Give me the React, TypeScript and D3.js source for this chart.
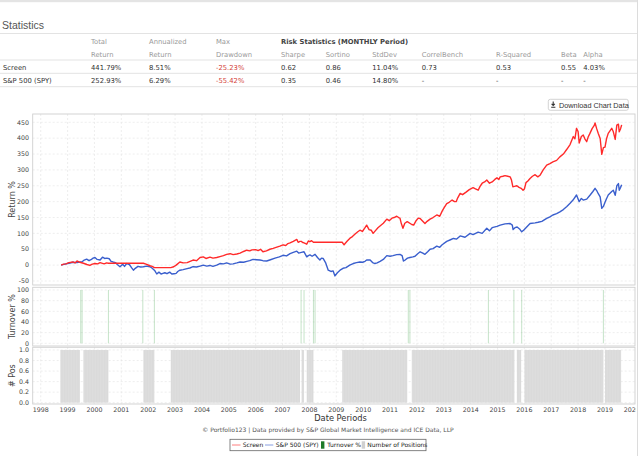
import React from 'react';
import * as d3 from 'd3';

// values (dates as decimal years)
const screenSeries: [number, number][] = [
  [1998.76, 0], [1998.85, 3], [1998.94, 4], [1999.05, 8], [1999.2, 10], [1999.28, 7], [1999.35, 13], [1999.46, 9],
  [1999.59, 6], [1999.72, 2], [1999.83, -1], [1999.92, 3], [2000.02, 5], [2000.12, 4], [2000.21, 8], [2000.36, 4],
  [2000.45, 7], [2000.52, 6], [2001.82, 6], [2001.92, 3], [2002.07, -2], [2002.15, -4], [2002.23, -8], [2002.84, -8],
  [2002.95, -5], [2003.04, 0], [2003.18, 10], [2003.3, 7], [2003.45, 8], [2003.67, 16], [2003.8, 14], [2003.93, 24],
  [2004.05, 26], [2004.15, 21], [2004.3, 25], [2004.41, 22], [2004.55, 24], [2004.67, 27], [2004.8, 30], [2004.92, 34],
  [2005.05, 36], [2005.16, 33], [2005.3, 35], [2005.42, 38], [2005.55, 43], [2005.67, 47], [2005.78, 45], [2005.86, 48],
  [2006.0, 49], [2006.09, 46], [2006.18, 50], [2006.27, 42], [2006.4, 45], [2006.53, 50], [2006.65, 53], [2006.76, 56],
  [2006.9, 60], [2007.02, 64], [2007.12, 62], [2007.2, 68], [2007.28, 70], [2007.4, 75], [2007.53, 81], [2007.58, 72],
  [2007.65, 75], [2007.71, 75], [2007.73, 72], [2007.8, 70], [2007.9, 66], [2007.96, 76], [2008.02, 74], [2008.08, 77],
  [2008.15, 72], [2009.22, 72], [2009.29, 64], [2009.4, 75], [2009.51, 85], [2009.6, 90], [2009.7, 98], [2009.8, 105],
  [2009.88, 110], [2009.97, 106], [2010.07, 118], [2010.13, 126], [2010.22, 112], [2010.3, 110], [2010.37, 100],
  [2010.45, 108], [2010.55, 118], [2010.65, 125], [2010.75, 132], [2010.88, 145], [2010.97, 140], [2011.07, 148],
  [2011.15, 150], [2011.25, 154], [2011.32, 150], [2011.37, 148], [2011.42, 131], [2011.48, 116], [2011.55, 132],
  [2011.64, 137], [2011.81, 128], [2011.88, 126], [2011.97, 140], [2012.05, 148], [2012.12, 147], [2012.2, 140],
  [2012.3, 131], [2012.38, 138], [2012.49, 145], [2012.6, 150], [2012.74, 158], [2012.85, 154], [2012.94, 170],
  [2013.02, 182], [2013.11, 194], [2013.2, 198], [2013.31, 205], [2013.4, 200], [2013.46, 200], [2013.52, 212],
  [2013.61, 226], [2013.7, 222], [2013.83, 230], [2013.95, 238], [2014.09, 244], [2014.18, 240], [2014.28, 236],
  [2014.35, 248], [2014.43, 258], [2014.52, 262], [2014.6, 268], [2014.7, 258], [2014.8, 262], [2014.9, 270],
  [2014.98, 275], [2015.05, 270], [2015.1, 278], [2015.2, 280], [2015.28, 282], [2015.38, 280], [2015.47, 278],
  [2015.52, 268], [2015.57, 247], [2015.63, 248], [2015.72, 250], [2015.8, 245], [2015.88, 242], [2015.95, 236],
  [2016.0, 240], [2016.06, 260], [2016.13, 265], [2016.21, 273], [2016.3, 280], [2016.4, 285], [2016.5, 278],
  [2016.58, 283], [2016.7, 300], [2016.83, 315], [2016.95, 320], [2017.06, 325], [2017.2, 330], [2017.32, 341],
  [2017.45, 350], [2017.58, 365], [2017.7, 380], [2017.82, 405], [2017.88, 398], [2017.94, 431], [2018.0, 420],
  [2018.04, 385], [2018.12, 405], [2018.19, 410], [2018.25, 398], [2018.32, 389], [2018.38, 405], [2018.44, 415],
  [2018.52, 430], [2018.6, 440], [2018.63, 448], [2018.69, 430], [2018.75, 415], [2018.82, 399], [2018.88, 349],
  [2018.94, 370], [2019.0, 372], [2019.06, 399], [2019.12, 415], [2019.25, 431], [2019.31, 420], [2019.38, 396],
  [2019.44, 441], [2019.5, 444], [2019.53, 420], [2019.58, 430], [2019.62, 441.79],
];

const spySeries: [number, number][] = [
  [1998.76, 0], [1998.9, 3], [1999.05, 6], [1999.2, 9], [1999.35, 8], [1999.46, 10], [1999.53, 10], [1999.62, 16],
  [1999.71, 19], [1999.8, 14], [1999.87, 17], [1999.95, 22], [2000.02, 24], [2000.1, 18], [2000.21, 16], [2000.3, 25],
  [2000.38, 21], [2000.46, 22], [2000.55, 20], [2000.62, 12], [2000.69, 10], [2000.78, 8], [2000.85, 2], [2000.95, -5],
  [2001.05, 3], [2001.12, -4], [2001.2, 5], [2001.3, 2], [2001.38, -8], [2001.45, -16], [2001.52, -10], [2001.62, -4],
  [2001.72, -6], [2001.82, -5], [2001.95, -3], [2002.07, -5], [2002.15, -10], [2002.25, -18], [2002.32, -28],
  [2002.4, -22], [2002.48, -28], [2002.55, -26], [2002.62, -24], [2002.7, -27], [2002.8, -22], [2002.88, -28],
  [2002.96, -27], [2003.04, -26], [2003.1, -20], [2003.18, -16], [2003.3, -14], [2003.45, -11], [2003.55, -9],
  [2003.67, -5], [2003.8, -6], [2003.93, -3], [2004.05, 0], [2004.18, -3], [2004.3, -1], [2004.41, -4], [2004.55, 0],
  [2004.67, 5], [2004.8, 4], [2004.92, 7], [2005.05, 3], [2005.16, 4], [2005.3, 7], [2005.42, 10], [2005.55, 9],
  [2005.67, 12], [2005.78, 14], [2005.9, 18], [2006.02, 17], [2006.16, 16], [2006.27, 14], [2006.41, 13], [2006.55, 17],
  [2006.72, 22], [2006.88, 26], [2007.02, 31], [2007.15, 29], [2007.28, 36], [2007.4, 40], [2007.53, 44], [2007.6, 38],
  [2007.7, 40], [2007.8, 42], [2007.9, 26], [2007.96, 30], [2008.02, 32], [2008.1, 28], [2008.21, 34], [2008.3, 24],
  [2008.39, 16], [2008.45, 22], [2008.51, 21], [2008.6, 8], [2008.7, -16], [2008.8, -20], [2008.88, -18], [2008.95, -34],
  [2009.04, -24], [2009.14, -16], [2009.25, -10], [2009.36, -8], [2009.5, 0], [2009.63, 5], [2009.75, 8], [2009.88, 10],
  [2009.98, 9], [2010.07, 12], [2010.13, 16], [2010.26, 16], [2010.35, 8], [2010.44, 5], [2010.52, 7], [2010.63, 12],
  [2010.75, 18], [2010.88, 30], [2011.0, 28], [2011.11, 30], [2011.25, 33], [2011.37, 34], [2011.45, 30], [2011.5, 13],
  [2011.56, 16], [2011.65, 22], [2011.74, 24], [2011.85, 26], [2011.93, 28], [2012.03, 36], [2012.12, 42],
  [2012.22, 38], [2012.3, 34], [2012.4, 42], [2012.49, 50], [2012.6, 52], [2012.74, 60], [2012.85, 56], [2012.94, 64],
  [2013.11, 75], [2013.25, 80], [2013.36, 84], [2013.48, 82], [2013.61, 92], [2013.79, 88], [2013.98, 100],
  [2014.09, 96], [2014.28, 104], [2014.43, 100], [2014.6, 116], [2014.7, 108], [2014.8, 118], [2014.98, 122],
  [2015.1, 126], [2015.28, 130], [2015.47, 131], [2015.55, 126], [2015.58, 112], [2015.65, 118], [2015.73, 120],
  [2015.82, 114], [2015.9, 105], [2015.97, 110], [2016.06, 118], [2016.21, 131], [2016.4, 133], [2016.51, 135],
  [2016.65, 138], [2016.83, 147], [2016.95, 152], [2017.06, 158], [2017.2, 162], [2017.32, 168], [2017.45, 175],
  [2017.58, 185], [2017.7, 195], [2017.81, 205], [2017.94, 221], [2018.04, 200], [2018.12, 210], [2018.19, 205],
  [2018.32, 208], [2018.44, 220], [2018.55, 232], [2018.63, 242], [2018.69, 235], [2018.75, 225], [2018.82, 215],
  [2018.88, 179], [2018.94, 185], [2019.0, 198], [2019.06, 210], [2019.12, 221], [2019.25, 232], [2019.31, 236],
  [2019.38, 220], [2019.44, 250], [2019.5, 257], [2019.53, 236], [2019.58, 245], [2019.62, 252.93],
];

const turnoverDates = [1999.49, 1999.54, 2000.52, 2001.8, 2002.23, 2007.69, 2007.8, 2008.15, 2008.21, 2011.68, 2011.74, 2014.66, 2015.61, 2015.9, 2018.94];
const turnoverValue = 100;

const positionPeriods: [number, number][] = [
  [1998.73, 1999.46], [1999.59, 2000.52], [2001.82, 2002.23], [2002.84, 2007.65], [2007.71, 2007.8], [2007.9, 2008.15],
  [2009.22, 2011.64], [2011.81, 2015.63], [2015.72, 2015.88], [2016.0, 2018.94], [2019.0, 2019.6],
];

const yearTicks = d3.range(1998, 2021);
const returnTicks = d3.range(-50, 451, 50);
const turnoverTicks = [0, 20, 40, 60, 80, 100];
const posTicks = [0, 0.2, 0.4, 0.6, 0.8, 1.0];

const headerTop = ['Total', 'Annualized', 'Max'];
const headerBottom = ['Return', 'Return', 'Drawdown', 'Sharpe', 'Sortino', 'StdDev', 'CorrelBench', 'R-Squared', 'Beta', 'Alpha'];
const rowNames = ['Screen', 'S&P 500 (SPY)'];
const screenStats = ['441.79%', '8.51%', '-25.23%', '0.62', '0.86', '11.04%', '0.73', '0.53', '0.55', '4.03%'];
const spyStats = ['252.93%', '6.29%', '-55.42%', '0.35', '0.46', '14.80%', '-', '-', '-', '-'];

const colX = [91, 149, 216, 281, 325.7, 372.3, 421.7, 496, 561, 583.3];
const FONT = '"DejaVu Sans", Verdana, sans-serif';
const RED = '#ff2a2a';
const BLUE = '#3a5fcd';

export default function App() {
  const L = 32.7, R = 635;
  const x = d3.scaleLinear().domain([1998, 2019]).range([40.7, 605]);
  const yRet = d3.scaleLinear().domain([-50, 450]).range([281, 122.3]);
  const yTurn = d3.scaleLinear().domain([0, 100]).range([343.3, 290]);
  const yPos = d3.scaleLinear().domain([0, 1]).range([402.7, 350]);
  const panels = [
    { id: 'p0', top: 114, bottom: 285 },
    { id: 'p1', top: 287.3, bottom: 346 },
    { id: 'p2', top: 347.3, bottom: 404 },
  ];
  const line = d3.line<[number, number]>().x(d => x(d[0])).y(d => yRet(d[1]));
  const gridYears = yearTicks.filter(t => x(t) < R - 4);
  const grid = { stroke: '#e2e2e2', strokeWidth: 0.6, strokeDasharray: '2,2' };
  const tickText = { fontFamily: FONT, fontSize: 6.3, fill: '#444' };
  const legendText = { fontFamily: FONT, fontSize: 6, fill: '#222' };
  const rows = [screenStats, spyStats];

  return (
    <svg width={640} height={456} style={{ position: 'absolute', left: 0, top: 0, background: '#fff' }}>
      <defs>
        {panels.map(p => (
          <clipPath id={p.id} key={p.id}>
            <rect x={L} y={p.top} width={R - L} height={p.bottom - p.top} />
          </clipPath>
        ))}
        <clipPath id="xlab"><rect x={0} y={400} width={636} height={20} /></clipPath>
        <pattern id="stripes" width={1.6} height={10} patternUnits="userSpaceOnUse">
          <rect width={1.6} height={10} fill="#d9d9d9" />
          <rect x={1.2} width={0.4} height={10} fill="#e3e3e3" />
        </pattern>
      </defs>

      {/* page frame */}
      <rect x={0} y={0} width={638} height={2.2} fill="#e4e4e4" />
      <line x1={637.5} x2={637.5} y1={0} y2={456} stroke="#dcdcdc" />

      {/* statistics table */}
      <text x={2} y={28.5} fontFamily='"Liberation Sans", Arial, sans-serif' fontSize={10.5} fill="#555">Statistics</text>
      {[33.5, 60, 73.3, 86.7].map(y => (
        <line key={y} x1={0} x2={637} y1={y} y2={y} stroke="#e3e3e3" strokeWidth={1} />
      ))}
      {headerTop.map((h, i) => (
        <text key={h} x={colX[i]} y={44} fontFamily={FONT} fontSize={6.8} fill="#999">{h}</text>
      ))}
      <text x={colX[3]} y={44} fontFamily={FONT} fontSize={6.8} fontWeight="bold" fill="#444">Risk Statistics (MONTHLY Period)</text>
      {headerBottom.map((h, i) => (
        <text key={h + i} x={colX[i]} y={56.5} fontFamily={FONT} fontSize={6.8} fill="#999">{h}</text>
      ))}
      {rows.map((r, ri) => (
        <g key={ri}>
          <text x={3} y={69.5 + ri * 13.3} fontFamily={FONT} fontSize={6.8} fill="#333">{rowNames[ri]}</text>
          {r.map((v, i) => (
            <text key={i} x={colX[i]} y={69.5 + ri * 13.3} fontFamily={FONT} fontSize={6.8} fill={i === 2 ? '#d43f3a' : '#333'}>{v}</text>
          ))}
        </g>
      ))}

      {/* download button */}
      <rect x={548.3} y={99.3} width={80} height={11} rx={2} fill="#fff" stroke="#c8c8c8" strokeWidth={0.8} />
      <path d="M553.2,101.6 v3.6 M551.6,103.8 l1.6,1.7 l1.6,-1.7 M551.2,107.2 h4.2" stroke="#333" strokeWidth={1.1} fill="none" />
      <text x={559} y={107.6} fontFamily='"Liberation Sans", Arial, sans-serif' fontSize={7.3} fill="#333">Download Chart Data</text>

      {/* panel grids */}
      {panels.map(p => (
        <g key={p.id}>
          {gridYears.map(t => (
            <line key={t} x1={x(t)} x2={x(t)} y1={p.top} y2={p.bottom} {...grid} />
          ))}
        </g>
      ))}
      {returnTicks.map(t => <line key={t} x1={L} x2={R} y1={yRet(t)} y2={yRet(t)} {...grid} />)}
      {turnoverTicks.map(t => <line key={t} x1={L} x2={R} y1={yTurn(t)} y2={yTurn(t)} {...grid} />)}
      {posTicks.map(t => <line key={t} x1={L} x2={R} y1={yPos(t)} y2={yPos(t)} {...grid} />)}

      {/* returns */}
      <g clipPath="url(#p0)">
        <path d={line(spySeries) || ''} fill="none" stroke={BLUE} strokeWidth={1.4} strokeLinejoin="round" />
        <path d={line(screenSeries) || ''} fill="none" stroke={RED} strokeWidth={1.4} strokeLinejoin="round" />
      </g>

      {/* turnover */}
      <g clipPath="url(#p1)">
        {turnoverDates.map(d => (
          <line key={d} x1={x(d)} x2={x(d)} y1={yTurn(0)} y2={yTurn(turnoverValue)} stroke="#2f9a3a" strokeOpacity={0.4} strokeWidth={0.7} />
        ))}
      </g>

      {/* number of positions */}
      <g clipPath="url(#p2)">
        {positionPeriods.map(([s, e]) => (
          <rect key={s} x={x(s)} width={x(e) - x(s)} y={yPos(1)} height={yPos(0) - yPos(1)} fill="url(#stripes)" />
        ))}
      </g>

      {panels.map(p => (
        <rect key={p.id} x={L} y={p.top} width={R - L} height={p.bottom - p.top} fill="none" stroke="#cfcfcf" strokeWidth={0.9} />
      ))}

      {/* y axes */}
      {returnTicks.map(t => (
        <text key={t} x={29} y={yRet(t)} dy="0.35em" textAnchor="end" {...tickText}>{t}</text>
      ))}
      {turnoverTicks.map(t => (
        <text key={t} x={29} y={yTurn(t)} dy="0.35em" textAnchor="end" {...tickText}>{t}</text>
      ))}
      {posTicks.map(t => (
        <text key={t} x={29} y={yPos(t)} dy="0.35em" textAnchor="end" {...tickText}>{d3.format('.1f')(t)}</text>
      ))}
      <text transform={`translate(14.5,${(114 + 285) / 2}) rotate(-90)`} textAnchor="middle" fontFamily={FONT} fontSize={8} fill="#444">Return %</text>
      <text transform={`translate(14.5,${(287.3 + 346) / 2}) rotate(-90)`} textAnchor="middle" fontFamily={FONT} fontSize={8} fill="#444">Turnover %</text>
      <text transform={`translate(14.5,${(347.3 + 404) / 2}) rotate(-90)`} textAnchor="middle" fontFamily={FONT} fontSize={8} fill="#444"># Pos</text>

      {/* x axis */}
      <g clipPath="url(#xlab)">
        {yearTicks.map(t => (
          <text key={t} x={x(t)} y={411.5} textAnchor="middle" {...tickText}>{t}</text>
        ))}
      </g>
      <text x={340.5} y={420.8} textAnchor="middle" fontFamily={FONT} fontSize={8.3} fill="#333">Date Periods</text>
      <text x={328} y={432.3} textAnchor="middle" fontFamily={FONT} fontSize={6} fill="#555">© Portfolio123 | Data provided by S&amp;P Global Market Intelligence and ICE Data, LLP</text>

      {/* legend */}
      <rect x={230} y={439.3} width={196} height={11.4} fill="#fff" stroke="#666" strokeWidth={0.8} />
      <line x1={232} x2={240.5} y1={445} y2={445} stroke={RED} strokeOpacity={0.6} strokeWidth={1} />
      <text x={242.7} y={447.3} {...legendText}>Screen</text>
      <line x1={265} x2={273.3} y1={445} y2={445} stroke={BLUE} strokeOpacity={0.6} strokeWidth={1} />
      <text x={275.7} y={447.3} {...legendText}>S&amp;P 500 (SPY)</text>
      <rect x={321} y={441.3} width={3.4} height={7.4} fill="#1e7a28" />
      <text x={327.3} y={447.3} {...legendText}>Turnover %</text>
      <rect x={361.7} y={441.3} width={3.4} height={7.4} fill="#d0d0d0" />
      <text x={367.3} y={447.3} {...legendText}>Number of Positions</text>
    </svg>
  );
}
